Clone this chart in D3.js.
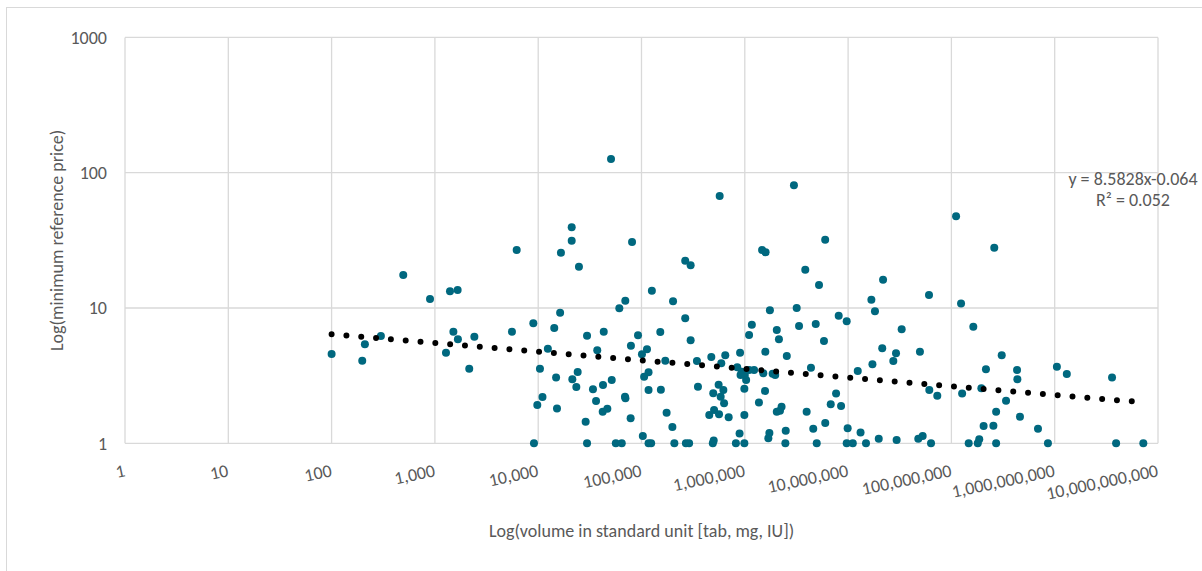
<!DOCTYPE html>
<html>
<head>
<meta charset="utf-8">
<script src="https://cdn.jsdelivr.net/npm/d3@7/dist/d3.min.js"></script>
<style>
  html, body { margin: 0; padding: 0; background: #fff; }
  svg { display: block; }
  text { font-family: Calibri, Carlito, Lato, sans-serif; fill: #595959; }
</style>
</head>
<body>
<svg id="chart" width="1202" height="571"></svg>
<script>
// Volume in standard units (tab, mg, IU) for each product
const volume = [
  100, 198, 210, 300, 494, 897, 1400, 1660, 1510, 1670, 1280, 2150, 2410, 5570, 6190,
  8970, 14300, 12400, 10400, 14900, 11000, 9800, 15200, 9100, 16300, 16600, 21100, 21100, 24800,
  29700, 43100, 37300, 61000, 69700, 92500, 79000, 21400, 24100, 23400, 33900, 42400, 51500,
  36300, 42100, 46700, 69200, 69900, 28800, 78500, 29700, 56400, 64400,
  103000, 117000, 124000, 126000, 202000, 265000, 152000, 299000, 113000, 101000, 170000,
  344000, 474000, 647000, 592000, 900000, 117000, 106000, 117000, 154000, 352000, 175000,
  199000, 208000, 269000, 289000, 490000, 500000, 558000, 495000, 620000, 584000, 630000,
  453000, 504000, 563000, 698000, 820000, 990000, 890000, 990000, 990000,
  1030000, 845000, 933000, 1000000, 910000, 1100000, 1230000, 1100000, 1170000, 1580000,
  1750000, 2040000, 2140000, 2550000, 1510000, 1860000, 1970000, 1570000, 1370000, 2270000,
  2040000, 2190000, 2490000, 1730000, 1690000, 2470000,
  50700, 571000, 2990000, 81000, 265000, 299000, 1470000, 1590000, 3850000, 5230000,
  6000000, 3180000, 8110000, 9690000, 3350000, 4860000,
  111000000, 260000000, 21800000, 16800000, 18200000, 60700000, 124000000, 33000000, 163000000,
  5840000, 4370000, 3970000, 4600000, 6010000, 4970000, 6790000, 8550000, 7650000, 9900000,
  9690000, 11100000, 13200000, 14900000, 19800000, 12400000, 17200000, 21400000, 27400000,
  29100000, 49600000, 29500000, 47800000, 52700000, 63500000, 61100000, 73000000,
  127000000, 195000000, 216000000, 307000000, 432000000, 435000000, 338000000, 271000000,
  205000000, 255000000, 461000000, 147000000, 180000000, 186000000, 271000000, 689000000,
  860000000, 1050000000, 1310000000, 3590000000, 3930000000, 7210000000
];

// Minimum reference price for each product (same order as volume)
const price = [
  4.57, 4.08, 5.39, 6.21, 17.5, 11.65, 13.3, 13.6, 6.68, 5.87, 4.67, 3.56, 6.14, 6.68, 26.8,
  7.71, 7.11, 5.0, 3.56, 3.07, 2.2, 1.92, 1.81, 1, 9.23, 25.6, 39.5, 31.4, 20.2,
  6.24, 6.68, 4.87, 9.95, 11.3, 6.28, 5.26, 2.97, 3.37, 2.61, 2.51, 2.7, 2.94,
  2.05, 1.71, 1.8, 2.21, 2.15, 1.44, 1.53, 1, 1, 1,
  1.13, 1, 1, 13.4, 11.2, 8.39, 6.65, 5.77, 4.95, 4.55, 4.08,
  4.06, 4.35, 4.47, 3.9, 4.67, 3.35, 3.11, 2.48, 2.49, 2.62, 1.68,
  1.32, 1, 1, 1, 1, 1.05, 2.71, 2.34, 2.48, 2.21, 1.98,
  1.62, 1.76, 1.64, 1.56, 1, 1, 1.18, 1.62, 2.53,
  2.94, 3.65, 3.38, 3.2, 3.2, 3.48, 3.48, 6.31, 7.53, 4.75,
  9.61, 6.88, 5.87, 4.42, 3.29, 3.26, 3.2, 2.44, 2.0, 1.86,
  1.71, 1.74, 1.24, 1.19, 1.09, 1,
  126, 67.3, 80.7, 30.7, 22.3, 20.7, 26.8, 25.8, 19.2, 14.8,
  32, 10.0, 8.77, 7.97, 7.36, 7.62,
  47.6, 27.9, 16.2, 11.5, 9.45, 12.5, 10.8, 6.96, 7.28,
  5.7, 3.62, 1.71, 1.28, 1.41, 1, 1.94, 1.89, 2.33, 1.29,
  1, 1, 1.2, 1, 1.08, 3.42, 3.84, 5.04, 4.06,
  4.63, 4.75, 1.06, 1.08, 1.13, 1, 2.48, 2.25,
  2.33, 2.55, 3.52, 4.47, 3.48, 2.97, 2.06, 1.71,
  1.34, 1.35, 1.57, 1, 1, 1.07, 1, 1.28,
  1, 3.68, 3.25, 3.07, 1, 1
];

// Axis ticks (decades)
const xTicks = [1, 10, 100, 1e3, 1e4, 1e5, 1e6, 1e7, 1e8, 1e9, 1e10];
const yTicks = [1, 10, 100, 1000];

// Power trend line: y = a * x^b
const trendA = 8.5828;
const trendB = -0.064;
const trendR2 = 0.052;

const xTitle = "Log(volume in standard unit [tab, mg, IU])";
const yTitle = "Log(minimum reference price)";

const svg = d3.select("#chart");
const W = 1202, H = 571;
const plot = { left: 125, right: 1158, top: 37.4, bottom: 443.3 };

const x = d3.scaleLog().domain([1, 1e10]).range([plot.left, plot.right]);
const y = d3.scaleLog().domain([1, 1000]).range([plot.bottom, plot.top]);

// Chart area border
svg.append("rect")
  .attr("x", 6.5).attr("y", 7.5)
  .attr("width", W + 10).attr("height", H + 10)
  .attr("fill", "#fff")
  .attr("stroke", "#d9d9d9").attr("stroke-width", 1);

// Gridlines
const grid = svg.append("g").attr("stroke", "#d9d9d9").attr("stroke-width", 1.3);
grid.selectAll("line.v").data(xTicks).join("line")
  .attr("class", "v")
  .attr("x1", d => x(d)).attr("x2", d => x(d))
  .attr("y1", plot.top).attr("y2", plot.bottom);
grid.selectAll("line.h").data(yTicks).join("line")
  .attr("class", "h")
  .attr("x1", plot.left).attr("x2", plot.right)
  .attr("y1", d => y(d)).attr("y2", d => y(d));

const fontSize = 18;

// Y tick labels
svg.append("g").selectAll("text").data(yTicks).join("text")
  .attr("x", 107).attr("y", d => y(d))
  .attr("dy", "0.35em")
  .attr("text-anchor", "end")
  .attr("font-size", fontSize)
  .text(d => d3.format("d")(d));

// X tick labels, slightly rotated
const fmt = d3.format(",");
svg.append("g").selectAll("text").data(xTicks).join("text")
  .attr("transform", d => `translate(${x(d) + 1},${476}) rotate(-12)`)
  .attr("text-anchor", "end")
  .attr("font-size", fontSize)
  .text(d => fmt(d));

// Axis titles
svg.append("text")
  .attr("x", (plot.left + plot.right) / 2).attr("y", 537)
  .attr("text-anchor", "middle")
  .attr("font-size", fontSize)
  .text(xTitle);

svg.append("text")
  .attr("transform", `translate(63,${(plot.top + plot.bottom) / 2}) rotate(-90)`)
  .attr("text-anchor", "middle")
  .attr("font-size", fontSize)
  .text(yTitle);

// Scatter points
const data = volume.map((v, i) => ({ v, p: price[i] }));
svg.append("g").selectAll("circle").data(data).join("circle")
  .attr("cx", d => x(d.v)).attr("cy", d => y(d.p))
  .attr("r", 4)
  .attr("fill", "#00687f");

// Trend line across the data's volume range
const [vMin, vMax] = d3.extent(volume);
const trendPts = d3.range(0, 41).map(i => {
  const lv = Math.log10(vMin) + (Math.log10(vMax) - Math.log10(vMin)) * i / 40;
  const v = Math.pow(10, lv);
  return [x(v), y(trendA * Math.pow(v, trendB))];
});
svg.append("path")
  .attr("d", d3.line()(trendPts))
  .attr("fill", "none")
  .attr("stroke", "#000")
  .attr("stroke-width", 6)
  .attr("stroke-linecap", "round")
  .attr("stroke-dasharray", "0 14.87");

// Trend equation label
const eq = svg.append("text")
  .attr("text-anchor", "middle")
  .attr("font-size", fontSize);
eq.append("tspan").attr("x", 1133).attr("y", 184.5)
  .text(`y = ${trendA}x${trendB}`);
eq.append("tspan").attr("x", 1133).attr("y", 206)
  .text(`R² = ${trendR2}`);
</script>
</body>
</html>
